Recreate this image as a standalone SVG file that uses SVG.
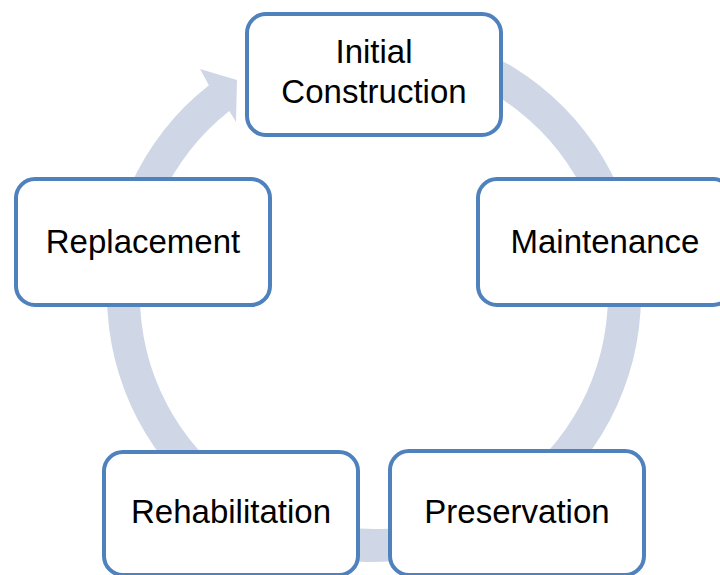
<svg xmlns="http://www.w3.org/2000/svg" width="720" height="575" viewBox="0 0 720 575">
<style>
.box{fill:#FFFFFF;stroke:#4F81BD;stroke-width:4}
.lbl{font-family:"Liberation Sans",Arial,sans-serif;font-size:33px;fill:#000000;text-anchor:middle}
.ring{fill:#CFD7E7;stroke:none}
</style>
<rect width="720" height="575" fill="#FFFFFF"/>
<g id="connectors">
<path class="ring" d="M327.6,32.1 A267,267 0 1 1 208.9,85.2 L200,69 L237,80 L236,122 L229.3,111.1 A234,234 0 1 0 333.4,64.6 Z"/>
</g>
<g id="node-initial-construction">
<rect class="box" x="247" y="14" width="254" height="121" rx="19"/>
<text class="lbl" x="374" y="63">Initial</text>
<text class="lbl" x="374" y="103">Construction</text>
</g>
<g id="node-maintenance">
<rect class="box" x="478" y="179" width="254" height="126" rx="19"/>
<text class="lbl" x="605" y="253">Maintenance</text>
</g>
<g id="node-preservation">
<rect class="box" x="390" y="451" width="254" height="124" rx="19"/>
<text class="lbl" x="517" y="523">Preservation</text>
</g>
<g id="node-rehabilitation">
<rect class="box" x="104" y="452" width="254" height="123" rx="19"/>
<text class="lbl" x="231" y="523">Rehabilitation</text>
</g>
<g id="node-replacement">
<rect class="box" x="16" y="179" width="254" height="126" rx="19"/>
<text class="lbl" x="143" y="253">Replacement</text>
</g>
</svg>
